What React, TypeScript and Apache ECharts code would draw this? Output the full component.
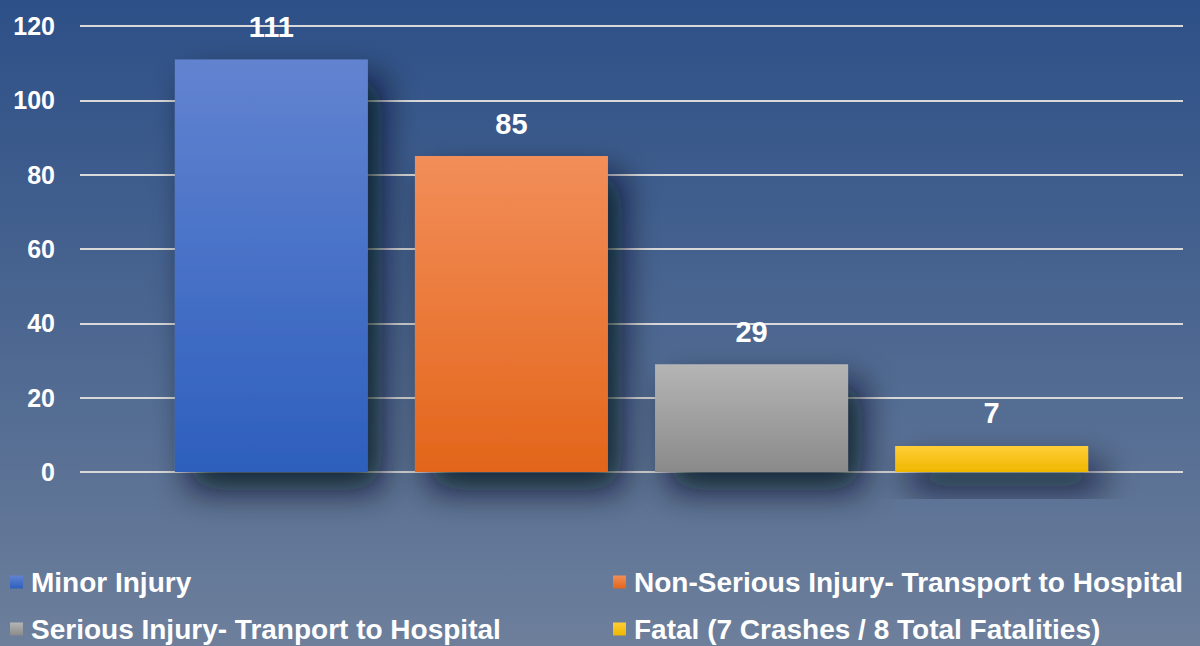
import React, { useEffect, useRef } from "react";
import * as echarts from "echarts";

const categories = ["Injuries"];
const seriesNames = [
  "Minor Injury",
  "Non-Serious Injury- Transport to Hospital",
  "Serious Injury- Tranport to Hospital",
  "Fatal (7 Crashes / 8 Total Fatalities)",
];
const seriesValues = [111, 85, 29, 7];
const yTicks = { min: 0, max: 120, interval: 20 };

const gradients: [string, string][] = [
  ["#6283d0", "#2d5fbd"],
  ["#f28e59", "#e3651a"],
  ["#b5b5b5", "#8a8a8a"],
  ["#ffcd38", "#efb700"],
];

const legendPos = [
  { left: 10, top: 568 },
  { left: 613, top: 568 },
  { left: 10, top: 615 },
  { left: 613, top: 615 },
];

export default function App() {
  const ref = useRef<HTMLDivElement>(null);
  useEffect(() => {
    if (!ref.current) return;
    const chart = echarts.init(ref.current, undefined, { renderer: "svg" });
    const font = "'Liberation Sans', Arial, sans-serif";
    const series = seriesNames.map((name, i) => ({
      name,
      type: "bar",
      data: [seriesValues[i]],
      barWidth: 193,
      barGap: "24.4%",
      itemStyle: {
        color: new echarts.graphic.LinearGradient(0, 0, 0, 1, [
          { offset: 0, color: gradients[i][0] },
          { offset: 1, color: gradients[i][1] },
        ]),
        shadowBlur: 34,
        shadowColor: "rgba(5,12,30,0.8)",
        shadowOffsetX: 14,
        shadowOffsetY: 18,
      },
      label: {
        show: true,
        position: "top",
        distance: 18,
        color: "#ffffff",
        fontSize: 29,
        fontWeight: "bold",
        fontFamily: font,
      },
    }));
    const legends = seriesNames.map((name, i) => ({
      orient: "horizontal",
      left: legendPos[i].left,
      top: legendPos[i].top,
      padding: 0,
      icon: "rect",
      itemWidth: 13,
      itemHeight: 13,
      data: [name],
      textStyle: {
        color: "#ffffff",
        fontSize: 28,
        fontWeight: "bold",
        fontFamily: font,
        padding: [0, 0, 0, 3],
      },
    }));
    chart.setOption({
      animation: false,
      backgroundColor: new echarts.graphic.LinearGradient(0, 0, 0, 1, [
        { offset: 0, color: "#2d5088" },
        { offset: 0.5, color: "#4b6690" },
        { offset: 1, color: "#6d7f9b" },
      ]),
      grid: { left: 80, right: 17, top: 26, bottom: 174, containLabel: false },
      legend: legends,
      xAxis: {
        type: "category",
        data: categories,
        axisLine: { show: false },
        axisTick: { show: false },
        axisLabel: { show: false },
      },
      yAxis: {
        type: "value",
        min: yTicks.min,
        max: yTicks.max,
        interval: yTicks.interval,
        axisLine: { show: false },
        axisTick: { show: false },
        axisLabel: {
          color: "#ffffff",
          fontSize: 25,
          fontWeight: "bold",
          fontFamily: font,
          margin: 25,
        },
        splitLine: { lineStyle: { color: "#d9d9d9", width: 2 } },
      },
      series,
    });
    return () => chart.dispose();
  }, []);
  return (
    <div
      ref={ref}
      style={{ position: "fixed", left: 0, top: 0, width: 1200, height: 646 }}
    />
  );
}
